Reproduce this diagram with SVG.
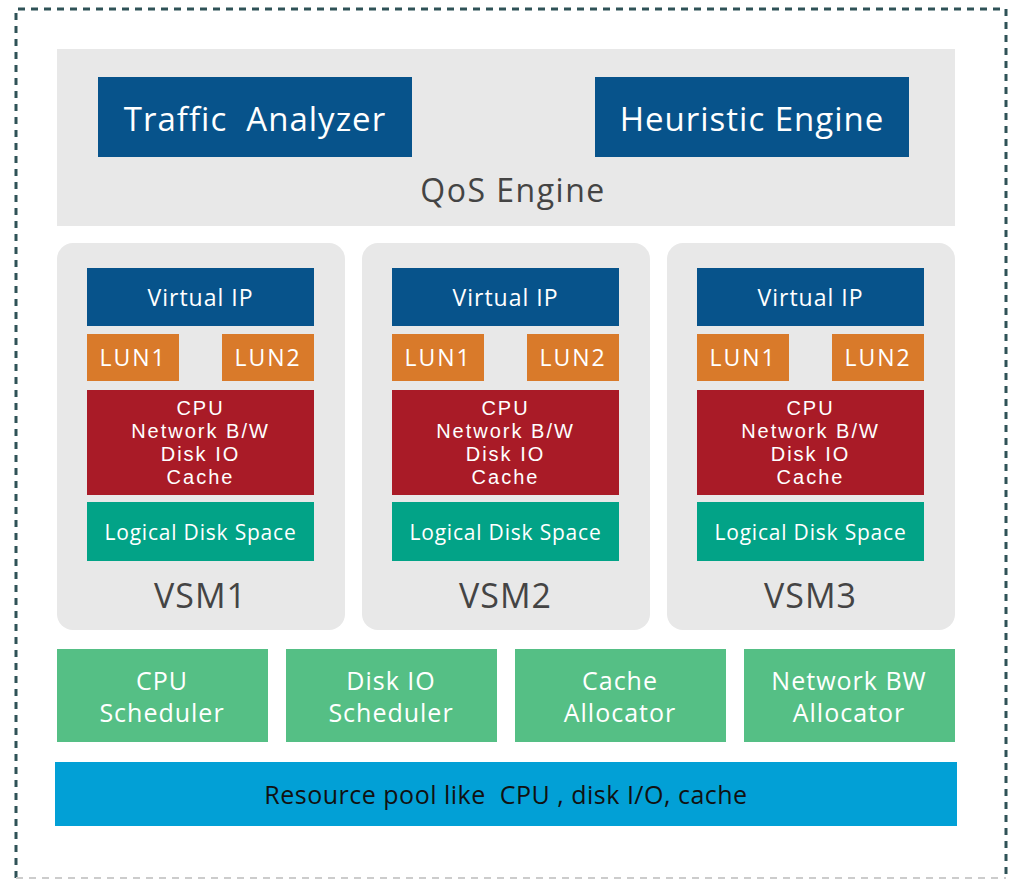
<svg xmlns="http://www.w3.org/2000/svg" width="1013" height="880" viewBox="0 0 1013 880">
<style>
text{font-family:"Open Sans","Noto Sans",sans-serif;text-anchor:middle;dominant-baseline:central}
.navy{fill:#07538b}
.org{fill:#d97a2a}
.red{fill:#a91b27}
.teal{fill:#02a387}
.grn{fill:#55bf85}
.pane{fill:#e8e8e8}
.w{fill:#ffffff}
.lbl{fill:#444444}
.vip{font-size:23px;letter-spacing:1px}
.lun{font-size:23px;letter-spacing:2px}
text.res{font-family:"Liberation Sans",Arial,sans-serif;font-size:20px;letter-spacing:2px}
.lds{font-size:21px;letter-spacing:0.8px}
.vsm{font-size:34px;letter-spacing:1px}
.sch{font-size:25px;letter-spacing:1px}
.big{font-size:33px;letter-spacing:1px}
</style>
<rect width="1013" height="880" fill="#ffffff"/>
<g id="frame">
<path d="M16 878 V9 H1006 V878" fill="none" stroke="#2f5257" stroke-width="3" stroke-dasharray="7,6"/>
<path d="M16 878 H1006" fill="none" stroke="#cccccc" stroke-width="2" stroke-dasharray="7,6"/>
</g>
<g id="qos">
<rect class="pane" x="57" y="49" width="898" height="177"/>
<text class="lbl" x="513" y="189" font-size="32" letter-spacing="1.5">QoS Engine</text>
</g>
<g id="traffic"><rect class="navy" x="98" y="77" width="314" height="80"/><text class="w big" x="255" y="118" xml:space="preserve">Traffic  Analyzer</text></g>
<g id="heuristic"><rect class="navy" x="595" y="77" width="314" height="80"/><text class="w big" x="752" y="118">Heuristic Engine</text></g>

<g id="vsm1">
<rect class="pane" x="57" y="243" width="288" height="387" rx="16"/>
<rect class="navy" x="87" y="268" width="227" height="58"/><text class="w vip" x="200.5" y="297">Virtual IP</text>
<rect class="org" x="87" y="334" width="92" height="47"/><text class="w lun" x="133" y="357">LUN1</text>
<rect class="org" x="222" y="334" width="92" height="47"/><text class="w lun" x="268" y="357">LUN2</text>
<rect class="red" x="87" y="390" width="227" height="105"/>
<text class="w res" x="200.5" y="408"><tspan x="200.5" y="408">CPU</tspan><tspan x="200.5" y="431">Network B/W</tspan><tspan x="200.5" y="454">Disk IO</tspan><tspan x="200.5" y="477">Cache</tspan></text>
<rect class="teal" x="87" y="502" width="227" height="59"/><text class="w lds" x="200.5" y="532">Logical Disk Space</text>
<text class="lbl vsm" x="200.5" y="595">VSM1</text>
</g>
<g id="vsm2">
<rect class="pane" x="362" y="243" width="288" height="387" rx="16"/>
<rect class="navy" x="392" y="268" width="227" height="58"/><text class="w vip" x="505.5" y="297">Virtual IP</text>
<rect class="org" x="392" y="334" width="92" height="47"/><text class="w lun" x="438" y="357">LUN1</text>
<rect class="org" x="527" y="334" width="92" height="47"/><text class="w lun" x="573" y="357">LUN2</text>
<rect class="red" x="392" y="390" width="227" height="105"/>
<text class="w res" x="505.5" y="408"><tspan x="505.5" y="408">CPU</tspan><tspan x="505.5" y="431">Network B/W</tspan><tspan x="505.5" y="454">Disk IO</tspan><tspan x="505.5" y="477">Cache</tspan></text>
<rect class="teal" x="392" y="502" width="227" height="59"/><text class="w lds" x="505.5" y="532">Logical Disk Space</text>
<text class="lbl vsm" x="505.5" y="595">VSM2</text>
</g>
<g id="vsm3">
<rect class="pane" x="667" y="243" width="288" height="387" rx="16"/>
<rect class="navy" x="697" y="268" width="227" height="58"/><text class="w vip" x="810.5" y="297">Virtual IP</text>
<rect class="org" x="697" y="334" width="92" height="47"/><text class="w lun" x="743" y="357">LUN1</text>
<rect class="org" x="832" y="334" width="92" height="47"/><text class="w lun" x="878" y="357">LUN2</text>
<rect class="red" x="697" y="390" width="227" height="105"/>
<text class="w res" x="810.5" y="408"><tspan x="810.5" y="408">CPU</tspan><tspan x="810.5" y="431">Network B/W</tspan><tspan x="810.5" y="454">Disk IO</tspan><tspan x="810.5" y="477">Cache</tspan></text>
<rect class="teal" x="697" y="502" width="227" height="59"/><text class="w lds" x="810.5" y="532">Logical Disk Space</text>
<text class="lbl vsm" x="810.5" y="595">VSM3</text>
</g>

<g id="cpu-sched"><rect class="grn" x="57" y="649" width="211" height="93"/><text class="w sch" x="162"><tspan x="162" y="680">CPU</tspan><tspan x="162" y="712">Scheduler</tspan></text></g>
<g id="disk-sched"><rect class="grn" x="286" y="649" width="211" height="93"/><text class="w sch" x="391"><tspan x="391" y="680">Disk IO</tspan><tspan x="391" y="712">Scheduler</tspan></text></g>
<g id="cache-alloc"><rect class="grn" x="515" y="649" width="211" height="93"/><text class="w sch" x="620"><tspan x="620" y="680">Cache</tspan><tspan x="620" y="712">Allocator</tspan></text></g>
<g id="net-alloc"><rect class="grn" x="744" y="649" width="211" height="93"/><text class="w sch" x="849"><tspan x="849" y="680">Network BW</tspan><tspan x="849" y="712">Allocator</tspan></text></g>
<g id="pool"><rect x="55" y="762" width="902" height="64" fill="#02a0d6"/><text x="506" y="794" font-size="25" letter-spacing="0.5" fill="#111111" xml:space="preserve">Resource pool like  CPU , disk I/O, cache</text></g>
<g id="connectors"></g>
</svg>
